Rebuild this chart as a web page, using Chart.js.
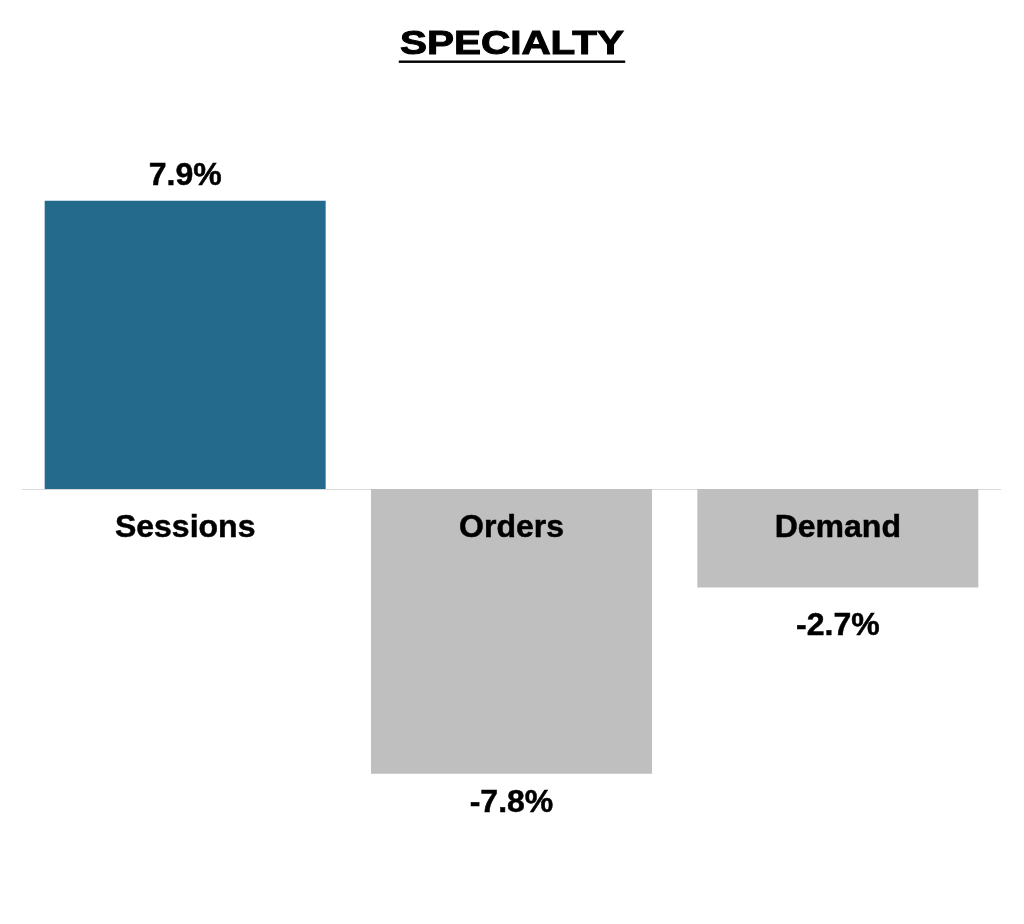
<!DOCTYPE html>
<html>
<head>
<meta charset="utf-8">
<script src="https://cdn.jsdelivr.net/npm/chart.js@4"></script>
<style>
  html, body { margin: 0; padding: 0; background: #ffffff; }
  #wrap { width: 1024px; height: 924px; position: relative; }
</style>
</head>
<body>
<div id="wrap"><canvas id="specialtyChart"></canvas></div>
<script>
// chart data
const chartTitle = 'SPECIALTY';
const categories = ['Sessions', 'Orders', 'Demand'];
const changes = [7.9, -7.8, -2.7];
const barColors = ['#236a8c', '#bfbfbf', '#bfbfbf'];

const FONT = '"Liberation Sans", Arial, sans-serif';

// gap between bar end and its value label (px)
const labelGap = [16, 15, 24];

const labelsPlugin = {
    id: 'labelsPlugin',
    beforeDatasetsDraw(chart) {
        const ctx = chart.ctx;
        const area = chart.chartArea;
        const y0 = Math.round(chart.scales.y.getPixelForValue(0)) + 0.5;
        ctx.save();
        ctx.strokeStyle = '#d9d9d9';
        ctx.lineWidth = 1;
        ctx.beginPath();
        ctx.moveTo(area.left, y0);
        ctx.lineTo(area.right, y0);
        ctx.stroke();
        ctx.restore();
    },
    afterDatasetsDraw(chart) {
        const ctx = chart.ctx;
        const meta = chart.getDatasetMeta(0);
        const y0 = chart.scales.y.getPixelForValue(0);
        ctx.save();
        ctx.fillStyle = '#000000';
        ctx.strokeStyle = '#000000';
        ctx.lineWidth = 0.5;
        ctx.font = 'bold 32px ' + FONT;
        ctx.textAlign = 'center';
        ctx.textBaseline = 'alphabetic';
        meta.data.forEach((bar, i) => {
            // category name just under the zero line
            ctx.fillText(categories[i], bar.x, y0 + 48);
            ctx.strokeText(categories[i], bar.x, y0 + 48);
            // value label
            const txt = changes[i].toFixed(1) + '%';
            const ty = changes[i] >= 0 ? bar.y - labelGap[i] : bar.y + labelGap[i] + 23;
            ctx.fillText(txt, bar.x, ty);
            ctx.strokeText(txt, bar.x, ty);
        });

        // title with underline
        const cx = chart.width / 2;
        const sx = 1.19;
        ctx.font = 'bold 34px ' + FONT;
        ctx.translate(cx, 54);
        ctx.scale(sx, 1);
        ctx.lineWidth = 1;
        ctx.fillText(chartTitle, 0, 0);
        ctx.strokeText(chartTitle, 0, 0);
        const w = ctx.measureText(chartTitle).width + 2;
        ctx.fillRect(-w / 2, 6.5, w, 2.4);
        ctx.restore();
    }
};

const ctx = document.getElementById('specialtyChart').getContext('2d');
const chart = new Chart(ctx, {
    type: 'bar',
    data: {
        labels: categories,
        datasets: [{
            data: changes,
            backgroundColor: barColors,
            borderWidth: 0,
            categoryPercentage: 1,
            barPercentage: 0.861
        }]
    },
    options: {
        responsive: true,
        maintainAspectRatio: false,
        animation: false,
        layout: {
            padding: { top: 124, bottom: 70, left: 22, right: 23 }
        },
        plugins: {
            legend: { display: false },
            title: { display: false },
            tooltip: { enabled: false }
        },
        scales: {
            x: { display: false },
            y: { display: false, min: -10, max: 10 }
        }
    },
    plugins: [labelsPlugin]
});
</script>
</body>
</html>
